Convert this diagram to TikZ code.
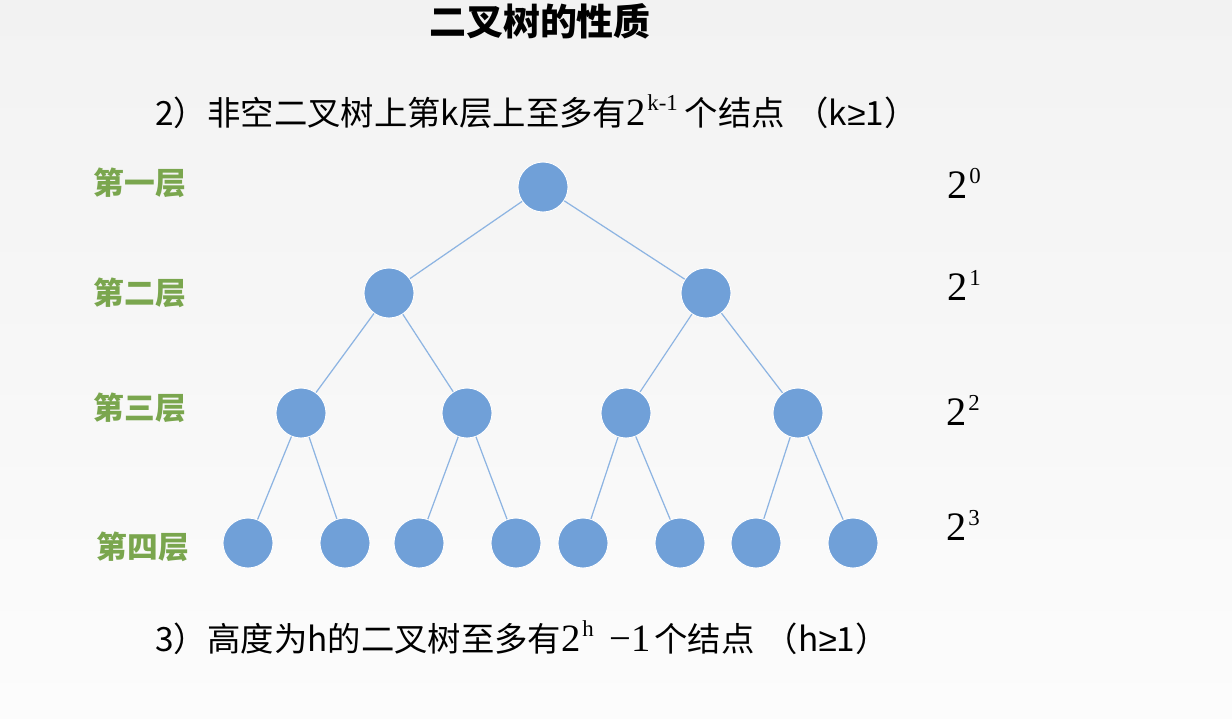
\documentclass[tikz,border=0pt]{standalone}
\usepackage{fontspec}
\setmainfont{Noto Sans CJK SC}
\newfontfamily\numfont{Liberation Serif}
\newfontfamily\symfont{Liberation Sans}
\definecolor{colnode}{RGB}{112,160,216}
\definecolor{coledge}{RGB}{141,180,226}
\definecolor{collevel}{RGB}{122,166,78}
\definecolor{colbgtop}{RGB}{242,242,242}
\definecolor{colbgbot}{RGB}{252,252,252}
\usetikzlibrary{
	positioning
}
\newcommand{\powof}[3]{{\numfont\fontsize{#3}{#3}\selectfont #1\kern1pt\raisebox{0.37em}{\fontsize{13pt}{13pt}\selectfont #2}}}
\tikzset{
	treenode/.style={circle, fill=colnode, draw=white, line width=0.5pt, minimum size=1cm, inner sep=0pt},
	treeedge/.style={draw=coledge, line width=0.7pt},
	levellabel/.style={text=collevel, font=\bfseries\fontsize{17.5pt}{17.5pt}\selectfont},
	powlabel/.style={anchor=base west, inner sep=0pt},
	textline/.style={anchor=base west, inner sep=0pt, font=\fontsize{19pt}{19pt}\selectfont}
}
\begin{document}
\begin{tikzpicture}[x=0.02cm, y=-0.02cm]
	\shade[top color=colbgtop, bottom color=colbgbot] (0,0) rectangle (1232,718);
	\useasboundingbox (0,0) rectangle (1232,718);

	\node[font=\bfseries\fontsize{21pt}{21pt}\selectfont] (title) at (540,21) {二叉树的性质};
	\node[textline] (prop2) at (155,125) {2）非空二叉树上第k层上至多有\powof{2}{k-1}{22pt}\kern4pt 个结点\kern6pt（k{\symfont ≥}1）};
	\node[textline] (prop3) at (155,651) {3）高度为h的二叉树至多有\powof{2}{h}{22pt}\kern9pt{\numfont\fontsize{22pt}{22pt}\selectfont −1}\kern2pt 个结点\kern6pt（h{\symfont ≥}1）};

	% levels
	\node[levellabel] (lab1) at (140,183) {第一层};
	\node[levellabel] (lab2) at (140,293) {第二层};
	\node[levellabel] (lab3) at (140,408) {第三层};
	\node[levellabel] (lab4) at (143,547) {第四层};

	\node[powlabel] (pow1) at (947,198) {\powof{2}{0}{23pt}};
	\node[powlabel] (pow2) at (947,300) {\powof{2}{1}{23pt}};
	\node[powlabel] (pow3) at (946,425) {\powof{2}{2}{23pt}};
	\node[powlabel] (pow4) at (946,540) {\powof{2}{3}{23pt}};

	% tree
	\node[treenode] (r) at (543,187) {};
	\node[treenode] (a) at (389,293) {};
	\node[treenode] (b) at (706,293) {};
	\node[treenode] (aa) at (301,413) {};
	\node[treenode] (ab) at (467,413) {};
	\node[treenode] (ba) at (626,413) {};
	\node[treenode] (bb) at (798,413) {};
	\node[treenode] (aaa) at (248,543) {};
	\node[treenode] (aab) at (345,543) {};
	\node[treenode] (aba) at (419,543) {};
	\node[treenode] (abb) at (516,543) {};
	\node[treenode] (baa) at (583,543) {};
	\node[treenode] (bab) at (680,543) {};
	\node[treenode] (bba) at (756,543) {};
	\node[treenode] (bbb) at (853,543) {};

	\path[treeedge]
		(r) edge (a)
			edge (b)
		(a) edge (aa)
			edge (ab)
		(b) edge (ba)
			edge (bb)
		(aa) edge (aaa)
			edge (aab)
		(ab) edge (aba)
			edge (abb)
		(ba) edge (baa)
			edge (bab)
		(bb) edge (bba)
			edge (bbb)
	;
\end{tikzpicture}
\end{document}
